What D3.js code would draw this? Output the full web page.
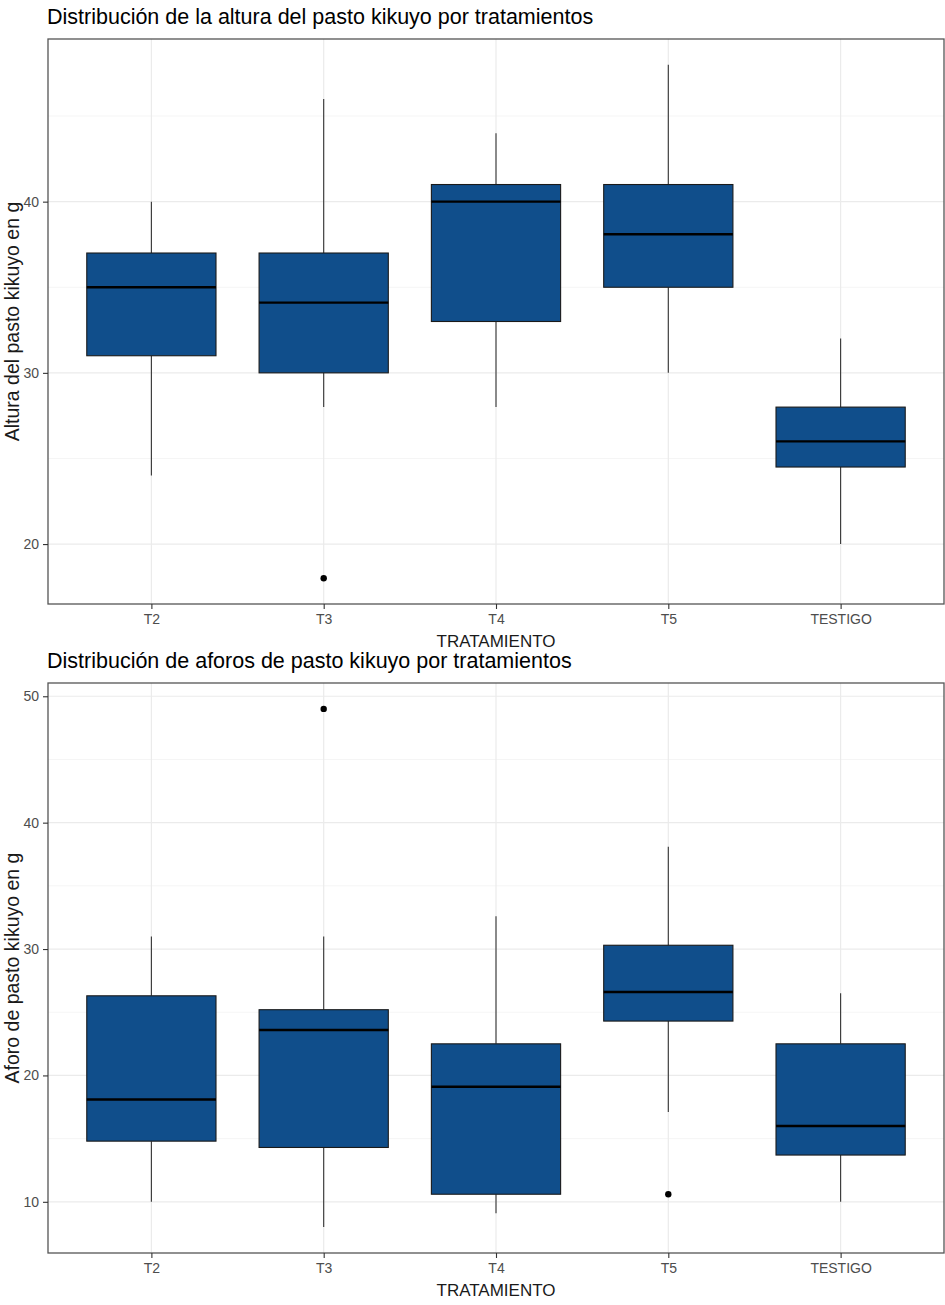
<!DOCTYPE html>
<html>
<head>
<meta charset="utf-8">
<script src="https://cdn.jsdelivr.net/npm/d3@7"></script>
<style>
  body { margin: 0; background: #fff; }
  svg text { font-family: "Liberation Sans", Arial, sans-serif; }
</style>
</head>
<body>
<svg id="chart" width="945" height="1305"></svg>
<script>
// categorias
const tratamientos = ["T2", "T3", "T4", "T5", "TESTIGO"];

// altura del pasto (panel superior)
const alturaMin = [24, 28, 28, 30, 20];
const alturaQ1 = [31, 30, 33, 35, 24.5];
const alturaMed = [35, 34.1, 40, 38.1, 26];
const alturaQ3 = [37, 37, 41, 41, 28];
const alturaMax = [40, 46, 44, 48, 32];
const alturaOutliers = [["T3", 18]];
const alturaTicks = [20, 30, 40];

// aforo (panel inferior)
const aforoMin = [10, 8, 9.1, 17.1, 10];
const aforoQ1 = [14.8, 14.3, 10.6, 24.3, 13.7];
const aforoMed = [18.1, 23.6, 19.1, 26.6, 16];
const aforoQ3 = [26.3, 25.2, 22.5, 30.3, 22.5];
const aforoMax = [31, 31, 32.6, 38.1, 26.5];
const aforoOutliers = [["T3", 49], ["T5", 10.6]];
const aforoTicks = [10, 20, 30, 40, 50];

const svg = d3.select("#chart");
const fillColor = "#104E8B";

function drawPanel(opts) {
  const { top, bottom, left, right, title, ytitle, mins, q1s, meds, q3s, maxs, outliers, ticks, minorTicks } = opts;

  // rango con expansion tipo ggplot (5%)
  const allVals = mins.concat(maxs, outliers.map((d) => d[1]));
  const lo = d3.min(allVals), hi = d3.max(allVals);
  const pad = (hi - lo) * 0.05;

  const y = d3.scaleLinear().domain([lo - pad, hi + pad]).range([bottom, top]);
  const xPos = d3.scalePoint().domain(tratamientos).range([left, right]).padding(0.6);
  const step = xPos.step();
  const boxW = step * 0.75;

  const g = svg.append("g");

  // grilla
  g.selectAll(".minor").data(minorTicks).enter().append("line")
    .attr("x1", left).attr("x2", right)
    .attr("y1", (d) => y(d)).attr("y2", (d) => y(d))
    .attr("stroke", "#F2F2F2").attr("stroke-width", 0.8);
  g.selectAll(".major").data(ticks).enter().append("line")
    .attr("x1", left).attr("x2", right)
    .attr("y1", (d) => y(d)).attr("y2", (d) => y(d))
    .attr("stroke", "#EBEBEB").attr("stroke-width", 1.2);
  g.selectAll(".vgrid").data(tratamientos).enter().append("line")
    .attr("x1", (d) => xPos(d)).attr("x2", (d) => xPos(d))
    .attr("y1", top).attr("y2", bottom)
    .attr("stroke", "#EBEBEB").attr("stroke-width", 1.2);

  const data = tratamientos.map((t, i) => ({
    t, min: mins[i], q1: q1s[i], med: meds[i], q3: q3s[i], max: maxs[i]
  }));

  const boxes = g.selectAll(".box").data(data).enter().append("g");

  // bigotes
  boxes.append("line")
    .attr("x1", (d) => xPos(d.t)).attr("x2", (d) => xPos(d.t))
    .attr("y1", (d) => y(d.max)).attr("y2", (d) => y(d.q3))
    .attr("stroke", "#333").attr("stroke-width", 1.1);
  boxes.append("line")
    .attr("x1", (d) => xPos(d.t)).attr("x2", (d) => xPos(d.t))
    .attr("y1", (d) => y(d.q1)).attr("y2", (d) => y(d.min))
    .attr("stroke", "#333").attr("stroke-width", 1.1);

  boxes.append("rect")
    .attr("x", (d) => xPos(d.t) - boxW / 2)
    .attr("width", boxW)
    .attr("y", (d) => y(d.q3))
    .attr("height", (d) => y(d.q1) - y(d.q3))
    .attr("fill", fillColor)
    .attr("stroke", "#1a1a1a").attr("stroke-width", 1.1);

  boxes.append("line")
    .attr("x1", (d) => xPos(d.t) - boxW / 2).attr("x2", (d) => xPos(d.t) + boxW / 2)
    .attr("y1", (d) => y(d.med)).attr("y2", (d) => y(d.med))
    .attr("stroke", "#000").attr("stroke-width", 2.4);

  g.selectAll(".out").data(outliers).enter().append("circle")
    .attr("cx", (d) => xPos(d[0])).attr("cy", (d) => y(d[1]))
    .attr("r", 3.2).attr("fill", "#000");

  // borde del panel
  g.append("rect")
    .attr("x", left).attr("y", top)
    .attr("width", right - left).attr("height", bottom - top)
    .attr("fill", "none").attr("stroke", "#555").attr("stroke-width", 1.3);

  // ejes
  const yAxis = g.append("g").attr("transform", `translate(${left},0)`)
    .call(d3.axisLeft(y).tickValues(ticks).tickSize(5).tickPadding(4));
  const xAxis = g.append("g").attr("transform", `translate(0,${bottom})`)
    .call(d3.axisBottom(xPos).tickSize(5).tickPadding(5));
  [yAxis, xAxis].forEach((a) => {
    a.select(".domain").remove();
    a.selectAll(".tick line").attr("stroke", "#333").attr("stroke-width", 1.1);
    a.selectAll(".tick text").attr("fill", "#4D4D4D").style("font-size", "14px");
  });

  g.append("text")
    .attr("x", left - 1).attr("y", top - 15)
    .style("font-size", "21.5px").attr("fill", "#000")
    .text(title);

  g.append("text")
    .attr("x", (left + right) / 2).attr("y", bottom + 43)
    .attr("text-anchor", "middle")
    .style("font-size", "17px").attr("fill", "#1a1a1a")
    .text("TRATAMIENTO");

  g.append("text")
    .attr("transform", `translate(19,${(top + bottom) / 2}) rotate(-90)`)
    .attr("text-anchor", "middle")
    .style("font-size", "19.5px").attr("fill", "#1a1a1a")
    .text(ytitle);
}

drawPanel({
  top: 39, bottom: 604, left: 48, right: 944,
  title: "Distribución de la altura del pasto kikuyo por tratamientos",
  ytitle: "Altura del pasto kikuyo en g",
  mins: alturaMin, q1s: alturaQ1, meds: alturaMed, q3s: alturaQ3, maxs: alturaMax,
  outliers: alturaOutliers, ticks: alturaTicks, minorTicks: [25, 35, 45]
});

drawPanel({
  top: 683, bottom: 1253, left: 48, right: 944,
  title: "Distribución de aforos de pasto kikuyo por tratamientos",
  ytitle: "Aforo de pasto kikuyo en g",
  mins: aforoMin, q1s: aforoQ1, meds: aforoMed, q3s: aforoQ3, maxs: aforoMax,
  outliers: aforoOutliers, ticks: aforoTicks, minorTicks: [15, 25, 35, 45]
});
</script>
</body>
</html>
